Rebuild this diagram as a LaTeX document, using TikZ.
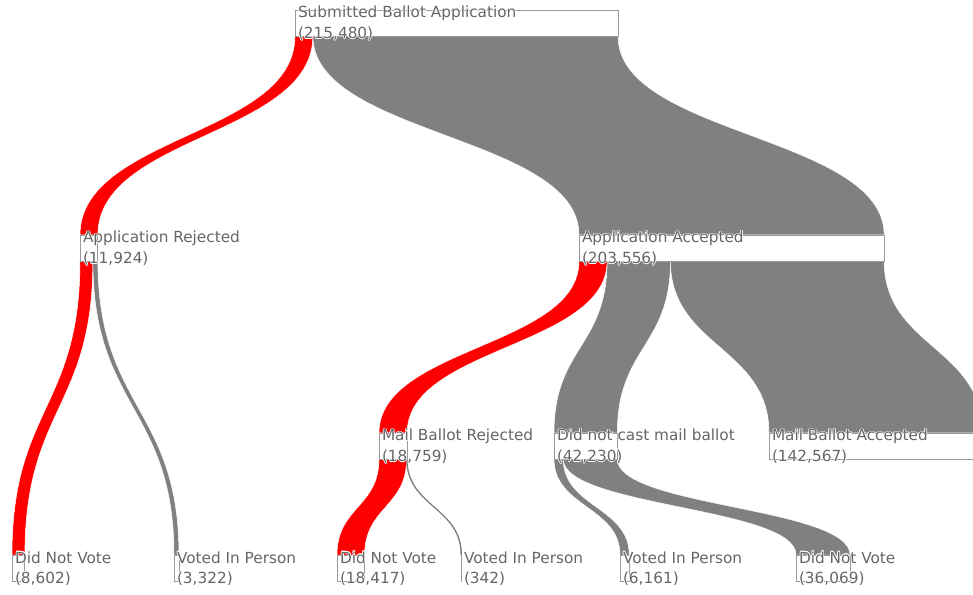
\documentclass[tikz,border=0pt]{standalone}
\usepackage{fontspec}
\setmainfont{DejaVu Sans}
\usetikzlibrary{calc,backgrounds}
\definecolor{rib}{HTML}{808080}
\definecolor{rej}{HTML}{FF0000}
\definecolor{txt}{HTML}{666666}
\definecolor{bord}{HTML}{9A9A9A}
\newcommand\halo[1]{\leavevmode
  \rlap{\color{white}\kern0.7pt#1}\rlap{\color{white}\kern-0.7pt#1}%
  \rlap{\color{white}\raise0.7pt\hbox{#1}}\rlap{\color{white}\lower0.7pt\hbox{#1}}%
  \rlap{\color{white}\kern0.5pt\raise0.5pt\hbox{#1}}\rlap{\color{white}\kern-0.5pt\lower0.5pt\hbox{#1}}%
  \rlap{\color{white}\kern0.5pt\lower0.5pt\hbox{#1}}\rlap{\color{white}\kern-0.5pt\raise0.5pt\hbox{#1}}%
  #1}
% #1 style, #2 source, #3 source offset, #4 target, #5 target offset, #6 width
\newcommand\ribbon[6]{%
  \path[#1] let \p1=($(#2.south west)+(#3,0)$), \p2=($(#4.north west)+(#5,0)$),
    \n1={0.5*\y1+0.5*\y2}, \n2={\x1+#6pt}, \n3={\x2+#6pt} in
    (\p1) .. controls (\x1,\n1) and (\x2,\n1) .. (\p2) -- (\n3,\y2)
    .. controls (\n3,\n1) and (\n2,\n1) .. (\n2,\y1) -- cycle;}
\newcommand\boxat[4]{\node[nodebox, minimum width=#4pt] (#1) at (#2,#3) {};}
\newcommand\lbl[3]{%
  \node[lbltext] (#1-l1) at ($(#1.north west)+(3,-8)$) {\halo{#2}};
  \node[lbltext] (#1-l2) at ($(#1.north west)+(3,-28.5)$) {\halo{#3}};}
\begin{document}
\begin{tikzpicture}[x=1pt,y=1pt,
  nodebox/.style={draw=bord, fill=white, line width=0.8pt, anchor=north west,
    inner sep=0pt, outer sep=0pt, minimum height=26pt},
  lbltext/.style={anchor=base west, inner sep=0pt, outer sep=0pt, text=txt,
    font=\fontsize{15.3}{18}\selectfont},
  redrib/.style={fill=rej, draw=white, line width=0.5pt},
  grayrib/.style={fill=rib, draw=white, line width=0.5pt},
  thinrib/.style={fill=rib, draw=rib, line width=0.9pt}]
\useasboundingbox (0,0) rectangle (973,594);
\clip (0,0) rectangle (973,594);
% nodes (boxes)
\boxat{top}{295}{584}{323}
\boxat{ar}{80}{359}{17.87}
\boxat{aa}{579}{359}{305.13}
\boxat{mbr}{379}{161}{28.12}
\boxat{dnc}{554}{161}{63.30}
\boxat{mba}{769}{161}{213.71}
\boxat{dnvA}{12}{39}{12.89}
\boxat{vipA}{174}{39}{4.98}
\boxat{dnvB}{337}{39}{27.61}
\boxat{vipB}{461}{39}{0.51}
\boxat{vipC}{620}{39}{9.24}
\boxat{dnvC}{796}{39}{54.07}
% ribbons
\begin{pgfonlayer}{background}
\ribbon{redrib}{top}{0}{ar}{0}{17.87}
\ribbon{grayrib}{top}{17.87}{aa}{0}{305.13}
\ribbon{redrib}{ar}{0}{dnvA}{0}{12.89}
\ribbon{grayrib}{ar}{12.89}{vipA}{0}{4.98}
\ribbon{redrib}{aa}{0}{mbr}{0}{28.12}
\ribbon{grayrib}{aa}{28.12}{dnc}{0}{63.30}
\ribbon{grayrib}{aa}{91.42}{mba}{0}{213.71}
\ribbon{redrib}{mbr}{0}{dnvB}{0}{27.61}
\ribbon{thinrib}{mbr}{27.61}{vipB}{0}{0.51}
\ribbon{grayrib}{dnc}{0}{vipC}{0}{9.24}
\ribbon{grayrib}{dnc}{9.24}{dnvC}{0}{54.07}
\end{pgfonlayer}
% labels
\lbl{top}{Submitted Ballot Application}{(215,480)}
\lbl{ar}{Application Rejected}{(11,924)}
\lbl{aa}{Application Accepted}{(203,556)}
\lbl{mbr}{Mail Ballot Rejected}{(18,759)}
\lbl{dnc}{Did not cast mail ballot}{(42,230)}
\lbl{mba}{Mail Ballot Accepted}{(142,567)}
\lbl{dnvA}{Did Not Vote}{(8,602)}
\lbl{vipA}{Voted In Person}{(3,322)}
\lbl{dnvB}{Did Not Vote}{(18,417)}
\lbl{vipB}{Voted In Person}{(342)}
\lbl{vipC}{Voted In Person}{(6,161)}
\lbl{dnvC}{Did Not Vote}{(36,069)}
\end{tikzpicture}
\end{document}
